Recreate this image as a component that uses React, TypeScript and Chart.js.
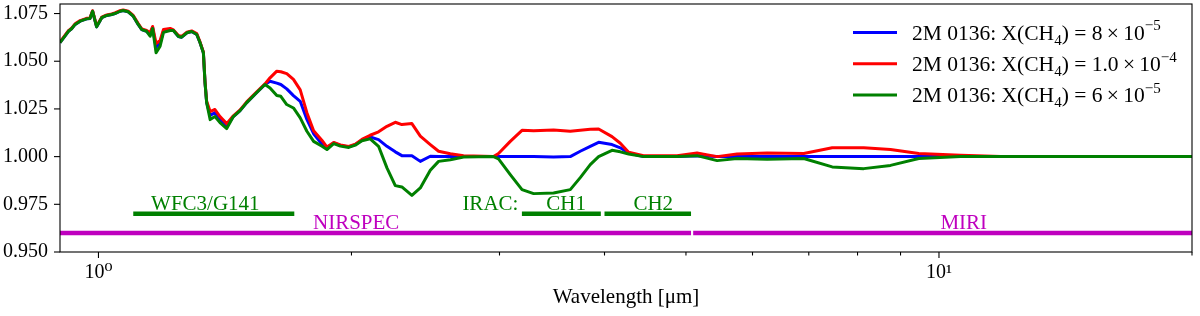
import React, { useEffect, useRef } from "react";
import { Chart, registerables } from "chart.js";

Chart.register(...registerables);

const FONT = "'Liberation Serif', 'DejaVu Serif', 'Times New Roman', serif";

// Wavelength grid in micron
const wavelength = [
  0.900, 0.921, 0.929, 0.938, 0.951, 0.968, 0.977, 0.984, 0.995, 1.009,
  1.023, 1.037, 1.046, 1.061, 1.070, 1.085, 1.100, 1.115, 1.126, 1.141,
  1.152, 1.160, 1.171, 1.184, 1.195, 1.217, 1.228, 1.245, 1.256, 1.274,
  1.291, 1.309, 1.321, 1.333, 1.339, 1.345, 1.358, 1.376, 1.395, 1.421,
  1.447, 1.474, 1.501, 1.543, 1.578, 1.600, 1.630, 1.648, 1.675, 1.706,
  1.738, 1.770, 1.803, 1.845, 1.870, 1.905, 1.940, 1.985, 2.021, 2.058,
  2.105, 2.154, 2.204, 2.255, 2.296, 2.360, 2.415, 2.482, 2.539, 2.622,
  2.719, 2.951, 2.992, 3.090, 3.191, 3.294, 3.479, 3.642, 3.743, 3.847,
  3.936, 4.083, 4.177, 4.273, 4.452, 4.879, 5.154, 5.445, 5.751, 6.245,
  6.904, 7.464, 8.137, 8.756, 9.461, 10.61, 11.84, 20.0,
];

// X(CH4) = 8e-5 (blue)
const fluxCH4_8e5 = [
  1.0597, 1.0657, 1.0670, 1.0693, 1.0710, 1.0722, 1.0724, 1.0762, 1.0680, 1.0728,
  1.0740, 1.0745, 1.0750, 1.0762, 1.0766, 1.0759, 1.0736, 1.0693, 1.0666, 1.0657,
  1.0640, 1.0677, 1.0572, 1.0595, 1.0658, 1.0665, 1.0661, 1.0630, 1.0626, 1.0649,
  1.0656, 1.0640, 1.0597, 1.0544, 1.0388, 1.0283, 1.0215, 1.0231, 1.0194, 1.0160,
  1.0210, 1.0241, 1.0283, 1.0336, 1.0378, 1.0395, 1.0385, 1.0378, 1.0355, 1.0320,
  1.0290, 1.0195, 1.0120, 1.0065, 1.0045, 1.0072, 1.0059, 1.0051, 1.0063, 1.0086,
  1.0103, 1.0089, 1.0054, 1.0025, 1.0005, 1.0005, 0.9975, 1.0002, 1.0000, 1.0000,
  1.0000, 1.0000, 1.0000, 1.0000, 1.0000, 1.0000, 0.9998, 1.0000, 1.0028, 1.0054,
  1.0075, 1.0063, 1.0046, 1.0019, 1.0000, 1.0000, 1.0005, 1.0000, 1.0000, 1.0000,
  1.0000, 1.0000, 1.0000, 1.0000, 1.0000, 1.0000, 1.0000, 1.0000,
];

// X(CH4) = 1.0e-4 (red)
const fluxCH4_1e4 = [
  1.0600, 1.0660, 1.0673, 1.0696, 1.0713, 1.0725, 1.0727, 1.0765, 1.0684, 1.0731,
  1.0743, 1.0748, 1.0753, 1.0765, 1.0769, 1.0762, 1.0740, 1.0697, 1.0670, 1.0661,
  1.0650, 1.0682, 1.0593, 1.0609, 1.0666, 1.0672, 1.0664, 1.0635, 1.0630, 1.0652,
  1.0659, 1.0645, 1.0600, 1.0548, 1.0392, 1.0290, 1.0236, 1.0247, 1.0210, 1.0173,
  1.0214, 1.0245, 1.0287, 1.0340, 1.0381, 1.0413, 1.0448, 1.0445, 1.0435, 1.0405,
  1.0350, 1.0230, 1.0135, 1.0085, 1.0050, 1.0074, 1.0061, 1.0053, 1.0065, 1.0090,
  1.0112, 1.0130, 1.0159, 1.0180, 1.0168, 1.0173, 1.0107, 1.0063, 1.0028, 1.0015,
  1.0005, 1.0000, 1.0016, 1.0080, 1.0138, 1.0135, 1.0140, 1.0133, 1.0138, 1.0143,
  1.0145, 1.0105, 1.0070, 1.0023, 1.0005, 1.0005, 1.0019, 1.0000, 1.0014, 1.0019,
  1.0016, 1.0046, 1.0046, 1.0037, 1.0016, 1.0007, 1.0000, 1.0000,
];

// X(CH4) = 6e-5 (green)
const fluxCH4_6e5 = [
  1.0597, 1.0657, 1.0670, 1.0693, 1.0710, 1.0722, 1.0724, 1.0762, 1.0680, 1.0728,
  1.0740, 1.0745, 1.0750, 1.0762, 1.0766, 1.0759, 1.0736, 1.0693, 1.0666, 1.0657,
  1.0631, 1.0672, 1.0544, 1.0579, 1.0651, 1.0661, 1.0661, 1.0630, 1.0626, 1.0649,
  1.0656, 1.0640, 1.0597, 1.0544, 1.0388, 1.0283, 1.0194, 1.0210, 1.0178, 1.0147,
  1.0210, 1.0241, 1.0283, 1.0336, 1.0378, 1.0360, 1.0320, 1.0316, 1.0273, 1.0255,
  1.0203, 1.0133, 1.0080, 1.0054, 1.0037, 1.0068, 1.0055, 1.0048, 1.0060, 1.0083,
  1.0093, 1.0054, 0.9941, 0.9848, 0.9841, 0.9797, 0.9836, 0.9928, 0.9975, 0.9984,
  0.9998, 1.0000, 0.9988, 0.9906, 0.9827, 0.9806, 0.9809, 0.9827, 0.9890, 0.9958,
  1.0000, 1.0033, 1.0025, 1.0014, 1.0000, 1.0000, 1.0005, 0.9979, 0.9990, 0.9986,
  0.9990, 0.9946, 0.9937, 0.9954, 0.9990, 1.0000, 1.0000, 1.0000,
];

const seriesColors = ["#0000ff", "#ff0000", "#008000"];
const seriesPrefix = "2M 0136: X(CH";
const seriesSub = "4";
const seriesMantissa = ["8", "1.0", "6"];
const seriesExponent = ["\u22125", "\u22124", "\u22125"];

const xTickValues = [1, 2, 3, 4, 5, 6, 7, 8, 9, 10, 20];
const xMajorTickValues = [1, 10];
const xMajorTickLabels = ["10\u2070", "10\u00b9"];
const yTickValues = [0.95, 0.975, 1.0, 1.025, 1.05, 1.075];
const xAxisTitle = "Wavelength [\u03bcm]";

// instrument coverage bars
const bandNames = ["WFC3/G141", "IRAC CH1", "IRAC CH2", "NIRSPEC", "MIRI"];
const bandStart = [1.1, 3.19, 4.0, 0.6, 5.1];
const bandEnd = [1.71, 3.96, 5.07, 5.07, 28];
const bandLevel = [0.97, 0.97, 0.97, 0.96, 0.96];
const bandColors = ["#008000", "#008000", "#008000", "#bf00bf", "#bf00bf"];

// text annotations
const noteTexts = ["WFC3/G141", "NIRSPEC", "IRAC:", "CH1", "CH2", "MIRI"];
const noteX = [1.155, 1.8, 2.71, 3.41, 4.33, 10.04];
const noteY = [0.9719, 0.9621, 0.9721, 0.9719, 0.9719, 0.9621];
const noteColors = ["#008000", "#bf00bf", "#008000", "#008000", "#008000", "#bf00bf"];

type Part = { text: string; kind: "n" | "sub" | "sup" };

function drawRich(ctx: CanvasRenderingContext2D, parts: Part[], x: number, y: number, size: number) {
  let cx = x;
  for (const p of parts) {
    const s = p.kind === "n" ? size : size * 0.7;
    const dy = p.kind === "sub" ? size * 0.24 : p.kind === "sup" ? -size * 0.42 : 0;
    ctx.font = `${s}px ${FONT}`;
    ctx.fillText(p.text, cx, y + dy);
    cx += ctx.measureText(p.text).width;
  }
}

const decorPlugin = {
  id: "decor",
  afterDatasetsDraw(chart: any) {
    const { ctx, scales } = chart;
    const xs = scales.x;
    const ys = scales.y;
    ctx.save();
    // annotations
    ctx.textAlign = "left";
    ctx.textBaseline = "alphabetic";
    ctx.font = `21px ${FONT}`;
    noteTexts.forEach((t, i) => {
      ctx.fillStyle = noteColors[i];
      ctx.fillText(t, xs.getPixelForValue(noteX[i]), ys.getPixelForValue(noteY[i]));
    });

    // legend (no frame)
    seriesColors.forEach((c, i) => {
      const rowY = 32.5 + i * 31.3;
      ctx.strokeStyle = c;
      ctx.lineWidth = 3;
      ctx.beginPath();
      ctx.moveTo(853, rowY);
      ctx.lineTo(897, rowY);
      ctx.stroke();
      ctx.fillStyle = "#000";
      const parts: Part[] = [
        { text: seriesPrefix, kind: "n" },
        { text: seriesSub, kind: "sub" },
        { text: ") = " + seriesMantissa[i] + "\u2009\u00d7\u200910", kind: "n" },
        { text: seriesExponent[i], kind: "sup" },
      ];
      drawRich(ctx, parts, 912, rowY + 7, 21.5);
    });
    ctx.restore();
  },
  afterDraw(chart: any) {
    const { ctx, chartArea, scales } = chart;
    const { left, right, top, bottom } = chartArea;
    const xs = scales.x;
    const ys = scales.y;
    ctx.save();
    ctx.strokeStyle = "#000";
    ctx.lineWidth = 1.1;
    xTickValues.forEach((v) => {
      const px = xs.getPixelForValue(v);
      const len = xMajorTickValues.includes(v) ? 6 : 3.5;
      ctx.beginPath();
      ctx.moveTo(px, bottom);
      ctx.lineTo(px, bottom + len);
      ctx.stroke();
    });
    yTickValues.forEach((v) => {
      const py = ys.getPixelForValue(v);
      ctx.beginPath();
      ctx.moveTo(left, py);
      ctx.lineTo(left - 6, py);
      ctx.stroke();
    });
    ctx.strokeRect(left, top, right - left, bottom - top);
    ctx.restore();
  },
};

export default function App() {
  const ref = useRef<HTMLCanvasElement>(null);
  useEffect(() => {
    const canvas = ref.current!;
    const fluxes = [fluxCH4_8e5, fluxCH4_1e4, fluxCH4_6e5];
    const spectra = fluxes.map((f, i) => ({
      label: seriesPrefix + seriesSub + ") = " + seriesMantissa[i] + "e" + seriesExponent[i],
      data: wavelength.map((w, j) => ({ x: w, y: f[j] })),
      borderColor: seriesColors[i],
      backgroundColor: seriesColors[i],
      borderWidth: 3,
      pointRadius: 0,
      tension: 0,
      fill: false,
      clip: 0,
      order: 2 - i,
      borderJoinStyle: "round" as const,
    }));
    const bands = bandNames.map((n, i) => ({
      label: n,
      data: [
        { x: bandStart[i], y: bandLevel[i] },
        { x: bandEnd[i], y: bandLevel[i] },
      ],
      borderColor: bandColors[i],
      backgroundColor: bandColors[i],
      borderWidth: 4.5,
      pointRadius: 0,
      fill: false,
      clip: 0,
      order: 5,
    }));
    const chart = new Chart(canvas, {
      type: "line",
      data: { datasets: [...spectra, ...bands] as any },
      options: {
        animation: false,
        responsive: false,
        devicePixelRatio: 1,
        layout: { padding: { top: 4, right: 8, left: 0, bottom: 0 } },
        plugins: { legend: { display: false }, tooltip: { enabled: false } },
        scales: {
          x: {
            type: "logarithmic",
            min: 0.9,
            max: 20,
            grid: { display: false, drawTicks: false },
            border: { display: false },
            afterBuildTicks: (s: any) => {
              s.ticks = xTickValues.map((v) => ({ value: v, major: xMajorTickValues.includes(v) }));
            },
            afterFit: (s: any) => {
              s.height = 64;
              s.paddingLeft = 0;
              s.paddingRight = 0;
              s.paddingTop = 0;
              s.paddingBottom = 0;
            },
            ticks: {
              autoSkip: false,
              maxRotation: 0,
              minRotation: 0,
              padding: 9,
              color: "#000",
              font: { family: FONT, size: 20 },
              callback: (v: any) => {
                const k = xMajorTickValues.indexOf(Number(v));
                return k >= 0 ? xMajorTickLabels[k] : "";
              },
            },
            title: {
              display: true,
              text: xAxisTitle,
              color: "#000",
              font: { family: FONT, size: 21 },
              padding: { top: 0, bottom: 6 },
            },
          },
          y: {
            type: "linear",
            min: 0.95,
            max: 1.08,
            grid: { display: false, drawTicks: false },
            border: { display: false },
            afterBuildTicks: (s: any) => {
              s.ticks = yTickValues.map((v) => ({ value: v }));
            },
            afterFit: (s: any) => {
              s.width = 60;
              s.paddingLeft = 0;
              s.paddingRight = 0;
              s.paddingTop = 0;
              s.paddingBottom = 0;
            },
            ticks: {
              autoSkip: false,
              padding: 12,
              color: "#000",
              font: { family: FONT, size: 20 },
              callback: (v: any) => Number(v).toFixed(3),
            },
          },
        },
      },
      plugins: [decorPlugin],
    });
    return () => chart.destroy();
  }, []);
  return (
    <div style={{ position: "absolute", left: 0, top: 0, width: 1200, height: 316, background: "#fff" }}>
      <canvas ref={ref} width={1200} height={316} style={{ display: "block", width: 1200, height: 316 }} />
    </div>
  );
}
